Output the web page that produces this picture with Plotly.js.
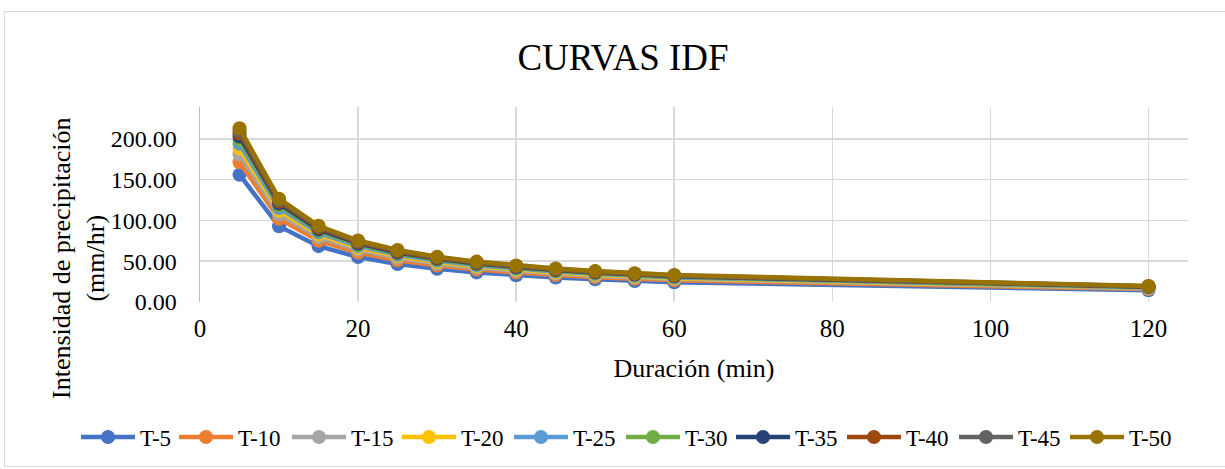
<!DOCTYPE html>
<html>
<head>
<meta charset="utf-8">
<script src="https://cdn.plot.ly/plotly-3.0.1.min.js"></script>
<style>
  html, body { margin: 0; padding: 0; background: #ffffff; }
  #chart { width: 1225px; height: 469px; }
  #frame { position: absolute; left: 4px; top: 11px; width: 1222px; height: 454px; border: 1px solid #d9d9d9; pointer-events: none; }
</style>
</head>
<body>
<div id="chart"></div>
<div id="frame"></div>
<script>
// Duración (min)
const durations = [5, 10, 15, 20, 25, 30, 35, 40, 45, 50, 55, 60, 120];

// Intensidad (mm/hr) per return period
const T5  = [156.00, 92.76, 68.44, 55.16, 46.66, 40.68, 36.25, 32.79, 30.03, 27.74, 25.83, 24.20, 14.38];
const T10 = [171.30, 101.85, 75.15, 60.57, 51.24, 44.68, 39.81, 36.01, 32.98, 30.46, 28.37, 26.57, 15.79];
const T15 = [181.00, 107.62, 79.40, 64.00, 54.14, 47.20, 42.06, 38.05, 34.84, 32.18, 29.97, 28.07, 16.69];
const T20 = [188.10, 111.84, 82.52, 66.51, 56.26, 49.06, 43.71, 39.54, 36.21, 33.44, 31.15, 29.17, 17.34];
const T25 = [193.90, 115.29, 85.06, 68.56, 58.00, 50.57, 45.06, 40.76, 37.33, 34.48, 32.11, 30.07, 17.88];
const T30 = [198.70, 118.15, 87.17, 70.26, 59.43, 51.82, 46.18, 41.77, 38.25, 35.33, 32.90, 30.82, 18.32];
const T35 = [202.90, 120.64, 89.01, 71.75, 60.69, 52.92, 47.15, 42.65, 39.06, 36.08, 33.60, 31.47, 18.71];
const T40 = [206.60, 122.84, 90.64, 73.05, 61.79, 53.88, 48.01, 43.43, 39.77, 36.73, 34.21, 32.04, 19.05];
const T45 = [209.90, 124.81, 92.08, 74.22, 62.78, 54.74, 48.78, 44.12, 40.41, 37.32, 34.76, 32.56, 19.35];
const T50 = [213.00, 126.65, 93.44, 75.32, 63.71, 55.55, 49.50, 44.77, 41.00, 37.87, 35.27, 33.04, 19.64];

const seriesNames = ["T-5", "T-10", "T-15", "T-20", "T-25", "T-30", "T-35", "T-40", "T-45", "T-50"];
const seriesValues = [T5, T10, T15, T20, T25, T30, T35, T40, T45, T50];
const seriesColors = ["#4472C4", "#ED7D31", "#A5A5A5", "#FFC000", "#5B9BD5", "#70AD47", "#264478", "#9E480E", "#636363", "#997300"];

const xTicks = [0, 20, 40, 60, 80, 100, 120];
const yTicks = [0, 50, 100, 150, 200];

// left pixel of each legend entry in the legend row
const legendLeft = [80, 178, 291, 401, 513, 625, 735, 846, 958, 1069];

const FONT = "'Liberation Serif', 'Times New Roman', serif";
const FS = 24;

const legendKey = i => (i === 0 ? "legend" : "legend" + (i + 1));

const traces = seriesNames.map((name, i) => ({
  type: "scatter",
  mode: "lines+markers",
  name: name,
  x: durations,
  y: seriesValues[i],
  legend: legendKey(i),
  line: { color: seriesColors[i], width: 4.5 },
  marker: { color: seriesColors[i], size: 14 }
}));

const layout = {
  width: 1225,
  height: 469,
  margin: { l: 200, r: 37, t: 107, b: 167 },
  paper_bgcolor: "#ffffff",
  plot_bgcolor: "#ffffff",
  font: { family: FONT, size: FS, color: "#000000" },
  title: {
    text: "CURVAS IDF",
    font: { family: FONT, size: 37, color: "#000000" },
    xref: "container", x: 623 / 1225, xanchor: "center",
    yref: "container", y: 1 - 57 / 469, yanchor: "middle"
  },
  xaxis: {
    range: [0, 125],
    tickvals: xTicks,
    ticktext: xTicks.map(String),
    showgrid: true,
    gridcolor: "#d9d9d9",
    gridwidth: 1.5,
    zeroline: false,
    showline: false,
    ticks: "",
    ticklabelstandoff: 9,
    tickfont: { family: FONT, size: 25, color: "#000000" },
    title: { text: "Duración (min)", font: { family: FONT, size: 26, color: "#000000" }, standoff: 17 }
  },
  yaxis: {
    range: [0, 239],
    tickvals: yTicks,
    ticktext: yTicks.map(v => v.toFixed(2)),
    showgrid: true,
    gridcolor: "#d9d9d9",
    gridwidth: 1.5,
    zeroline: false,
    showline: true,
    linecolor: "#bfbfbf",
    linewidth: 1.5,
    ticks: "",
    ticklabelstandoff: 17,
    tickfont: { family: FONT, size: FS, color: "#000000" }
  },
  annotations: [{
    text: "Intensidad de precipitación<br>(mm/hr)",
    textangle: -90,
    xref: "paper", x: (78 - 200) / 988, xanchor: "center",
    yref: "paper", y: (302 - 258) / 195, yanchor: "middle",
    showarrow: false,
    font: { family: FONT, size: 26, color: "#000000" }
  }],
  showlegend: true
};

seriesNames.forEach((name, i) => {
  layout[legendKey(i)] = {
    orientation: "h",
    xref: "container", x: (legendLeft[i] - 4) / 1225, xanchor: "left",
    yref: "container", y: 1 - 437 / 469, yanchor: "middle",
    font: { family: FONT, size: 23, color: "#000000" },
    itemwidth: 54,
    tracegroupgap: 0,
    bgcolor: "rgba(0,0,0,0)"
  };
});

Plotly.newPlot("chart", traces, layout, { displayModeBar: false, staticPlot: true });
</script>
</body>
</html>
